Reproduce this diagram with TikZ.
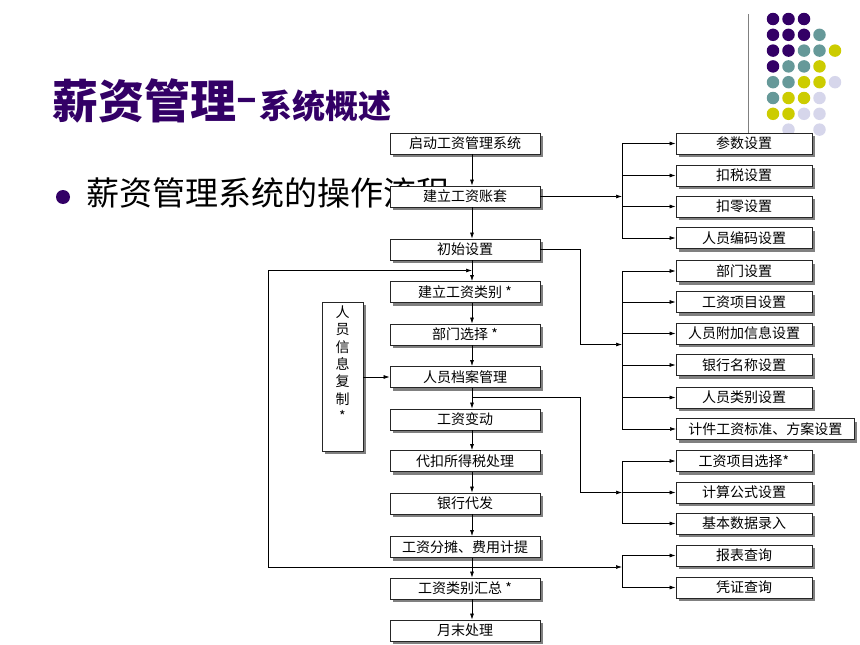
\documentclass[tikz,border=0pt]{standalone}
\usepackage{fontspec}
\setmainfont{Noto Sans CJK SC}
\usetikzlibrary{arrows.meta,shadows}
\definecolor{tpurple}{RGB}{51,0,102}
\definecolor{tteal}{RGB}{102,153,153}
\definecolor{tyellow}{RGB}{204,204,0}
\definecolor{tlav}{RGB}{214,214,235}
\begin{document}
\begin{tikzpicture}[x=1pt,y=-1pt,
  box/.style={draw=black!85, line width=0.8pt, fill=white, inner sep=0pt,
    minimum height=21pt, font=\fontsize{14pt}{16pt}\selectfont,
    drop shadow={shadow xshift=3pt, shadow yshift=-3pt, fill=black!50, opacity=1}},
  cbox/.style={box, minimum width=150pt},
  rbox/.style={box, minimum width=136pt},
  arr/.style={-{Latex[length=6pt,width=4pt]}, line width=0.7pt},
  ln/.style={line width=0.7pt},
  dotmark/.style={circle, inner sep=0pt, minimum size=12.5pt}
]
\useasboundingbox (0,0) rectangle (860,645);

% decorative dots
\foreach \c/\r/\col [count=\i] in {
  1/1/tpurple,2/1/tpurple,3/1/tpurple,
  1/2/tpurple,2/2/tpurple,3/2/tpurple,4/2/tteal,
  1/3/tpurple,2/3/tpurple,3/3/tteal,4/3/tteal,5/3/tyellow,
  1/4/tpurple,2/4/tteal,3/4/tteal,4/4/tyellow,
  1/5/tteal,2/5/tteal,3/5/tyellow,4/5/tyellow,5/5/tlav,
  1/6/tteal,2/6/tyellow,3/6/tyellow,4/6/tlav,
  1/7/tyellow,2/7/tyellow,3/7/tlav,4/7/tlav,
  2/8/tlav,4/8/tlav}
  \node[dotmark, fill=\col] (dot\i) at ({757.5+15.5*\c},{3.2+15.8*\r}) {};

% divider
\coordinate (dv1) at (748,14);
\coordinate (dv2) at (748,140);
\draw[black!50, line width=1pt] (dv1) -- (dv2);

% title
\node[anchor=west, inner sep=0pt, text=tpurple, font=\fontsize{46pt}{50pt}\selectfont\bfseries] (t1) at (52,101) {薪资管理};
\node[anchor=base west, inner sep=0pt, text=tpurple, font=\fontsize{33pt}{36pt}\selectfont\bfseries] (t2) at (t1.base east) {\raisebox{7pt}{\fontsize{38pt}{40pt}\selectfont –}\hspace{2pt}系统概述};

% bullet
\node[circle, fill=tpurple, inner sep=0pt, minimum size=14pt] (bul) at (63,197) {};
\node[anchor=west, inner sep=0pt, font=\fontsize{33pt}{36pt}\selectfont] (btxt) at (86,192.5) {薪资管理系统的操作流程};

% centre column
\node[cbox] (b1) at (465,143.5) {启动工资管理系统};
\node[cbox] (b2) at (465,196.5) {建立工资账套};
\node[cbox] (b3) at (465,249.5) {初始设置};
\node[cbox] (b4) at (465,292) {建立工资类别 *};
\node[cbox] (b5) at (465,334.5) {部门选择 *};
\node[cbox] (b6) at (465,377) {人员档案管理};
\node[cbox] (b7) at (465,419.5) {工资变动};
\node[cbox] (b8) at (465,461) {代扣所得税处理};
\node[cbox] (b9) at (465,503.5) {银行代发};
\node[cbox] (b10) at (465,547) {工资分摊、费用计提};
\node[cbox] (b11) at (465,588.5) {工资类别汇总 *};
\node[cbox] (b12) at (465,630.5) {月末处理};

% side box
\node[box, minimum width=41pt, minimum height=149pt] (side) at (342.5,376.5) {};
\node[anchor=north, inner sep=0pt, align=center, font=\fontsize{14pt}{17.3pt}\selectfont] (sidetxt) at ([yshift=-4pt]side.north) {人\\员\\信\\息\\复\\制\\*};

% right column
\node[rbox] (r1) at (744,143.5) {参数设置};
\node[rbox] (r2) at (744,175.5) {扣税设置};
\node[rbox] (r3) at (744,206.5) {扣零设置};
\node[rbox] (r4) at (744,238) {人员编码设置};
\node[rbox] (r5) at (744,271) {部门设置};
\node[rbox] (r6) at (744,302) {工资项目设置};
\node[rbox] (r7) at (744,333.5) {人员附加信息设置};
\node[rbox] (r8) at (744,365) {银行名称设置};
\node[rbox] (r9) at (744,397.5) {人员类别设置};
\node[box, minimum width=178pt, anchor=west] (r10) at (676,429) {计件工资标准、方案设置};
\node[rbox] (r11) at (744,461) {工资项目选择*};
\node[rbox] (r12) at (744,492.5) {计算公式设置};
\node[rbox] (r13) at (744,523.5) {基本数据录入};
\node[rbox] (r14) at (744,555.5) {报表查询};
\node[rbox] (r15) at (744,587.5) {凭证查询};

% helper coordinates
\coordinate (cx) at (472,0);
\coordinate (jx) at (622,0);
\coordinate (kx) at (580,0);

% main flow
\foreach \a/\b in {b1/b2,b2/b3,b3/b4,b4/b5,b5/b6,b6/b7,b7/b8,b8/b9,b9/b10,b10/b11,b11/b12}
  \draw[arr] (\a.south -| cx) -- (\b.north -| cx);

% side -> archive
\draw[arr] (side.east |- b6) -- (b6.west);

% group 1
\draw[arr] (b2.east) -- (b2.east -| jx);
\draw[ln] (r1.west -| jx) -- (r4.west -| jx);
\foreach \r in {r1,r2,r3,r4} \draw[arr] (\r.west -| jx) -- (\r.west);

% group 2
\coordinate (m2) at (622,344.5);
\draw[arr] (b3.east) -| (m2 -| kx) -- (m2);
\draw[ln] (r5.west -| jx) -- (r10.west -| jx);
\foreach \r in {r5,r6,r7,r8,r9,r10} \draw[arr] (\r.west -| jx) -- (\r.west);

% group 3
\coordinate (m3s) at (472,397.5);
\coordinate (m3) at (622,492.5);
\draw[arr] (m3s) -| (m3 -| kx) -- (m3);
\draw[ln] (r11.west -| jx) -- (r13.west -| jx);
\foreach \r in {r11,r12,r13} \draw[arr] (\r.west -| jx) -- (\r.west);

% loop and group 4
\coordinate (L1) at (268,567);
\coordinate (L2) at (268,270.5);
\coordinate (L3) at (472,270.5);
\coordinate (m4) at (622,567);
\draw[arr] (L1) -- (L2) -- (L3);
\draw[arr] (L1) -- (m4);
\draw[ln] (r14.west -| jx) -- (r15.west -| jx);
\foreach \r in {r14,r15} \draw[arr] (\r.west -| jx) -- (\r.west);
\end{tikzpicture}
\end{document}
